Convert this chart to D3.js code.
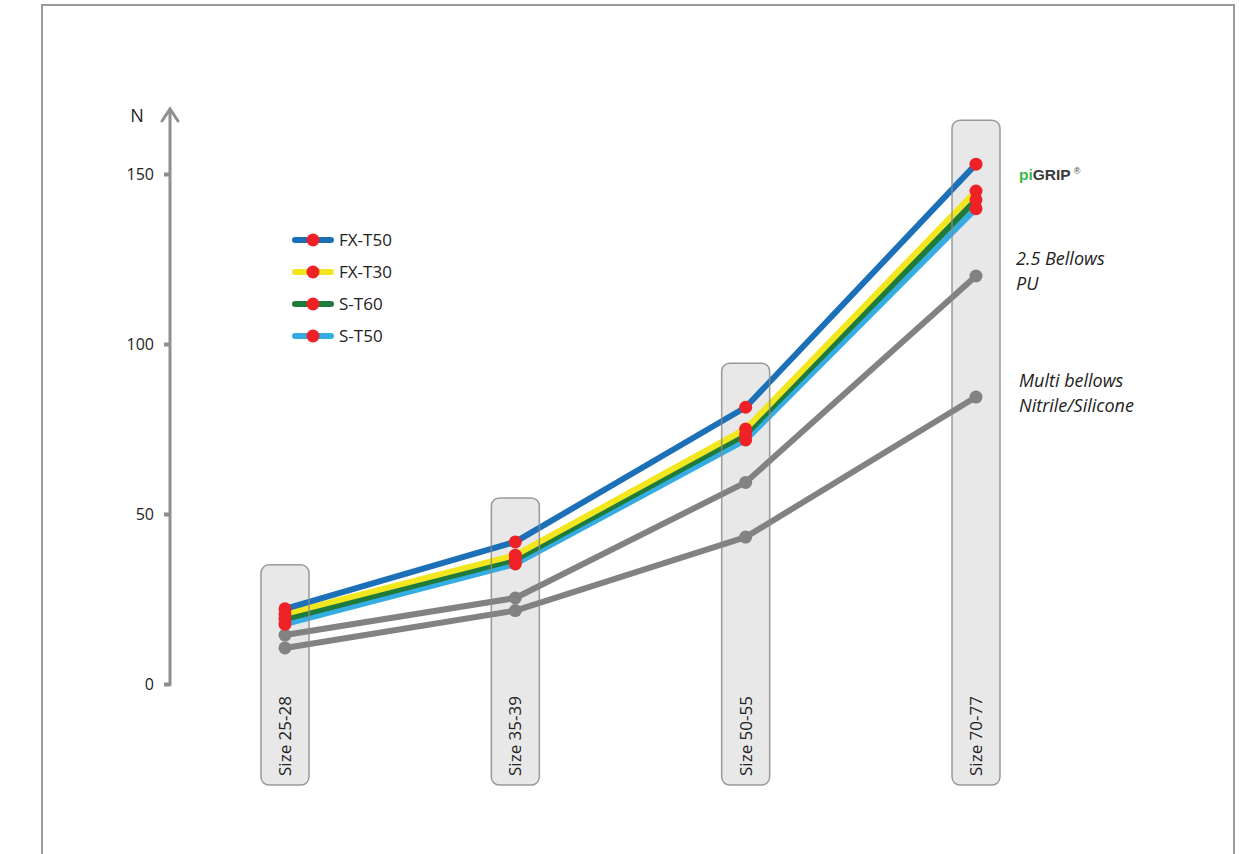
<!DOCTYPE html>
<html>
<head>
<meta charset="utf-8">
<script src="https://cdn.jsdelivr.net/npm/d3@7"></script>
<style>
  html, body { margin: 0; padding: 0; background: #fff; }
  svg { display: block; }
</style>
</head>
<body>
<svg id="chart" width="1239" height="854"></svg>
<script>
// ---- data ----
const categories = ["Size 25-28", "Size 35-39", "Size 50-55", "Size 70-77"];
const tickValues = [0, 50, 100, 150];
const seriesNames = ["FX-T50", "FX-T30", "S-T60", "S-T50"];
const fxT50 = [22.1, 41.8, 81.4, 152.9];
const fxT30 = [20.6, 37.9, 75.0, 145.0];
const sT60  = [19.1, 36.6, 73.4, 142.4];
const sT50  = [17.6, 35.3, 71.8, 139.8];
const bellows25PU = [14.4, 25.3, 59.3, 120.0];
const multiBellows = [10.6, 21.6, 43.2, 84.4];
const seriesColors = ["#1b70b8", "#f2e61e", "#1f7b3b", "#35ade2"];

const svg = d3.select("#chart");
const font = "'Open Sans', 'Liberation Sans', sans-serif";

// frame
svg.append("path")
  .attr("d", "M42,860 L42,5 L1234,5 L1234,860")
  .attr("fill", "none").attr("stroke", "#9a9a9a").attr("stroke-width", 2);

// scales
const x = d3.scalePoint().domain(categories).range([285, 976]);
const y = d3.scaleLinear().domain([0, 150]).range([684, 174]);

// axis
const axisX = 170;
const axisG = svg.append("g").attr("transform", `translate(${axisX},0)`)
  .call(d3.axisLeft(y).tickValues(tickValues).tickSize(6).tickPadding(10));
axisG.select(".domain").remove();
axisG.selectAll(".tick line").attr("stroke", "#8f8f8f").attr("stroke-width", 4);
axisG.selectAll(".tick text").attr("font-family", font).attr("font-size", 16).attr("fill", "#222");
svg.append("line").attr("x1", axisX).attr("x2", axisX).attr("y1", 110).attr("y2", 686)
  .attr("stroke", "#8f8f8f").attr("stroke-width", 3);
svg.append("path").attr("d", `M${axisX-8},121 L${axisX},109 L${axisX+8},121`)
  .attr("fill", "none").attr("stroke", "#8f8f8f").attr("stroke-width", 3).attr("stroke-linecap", "round");
svg.append("text").attr("x", 137).attr("y", 122).attr("text-anchor", "middle")
  .attr("font-family", font).attr("font-size", 18).attr("fill", "#222").text("N");

const line = d3.line().x((d, i) => x(categories[i])).y(d => y(d));
const colored = [fxT50, fxT30, sT60, sT50];

// category boxes (fill behind lines)
const boxTop = i => y(d3.max(colored, s => s[i])) - 44;
const boxes = svg.append("g");
categories.forEach((c, i) => {
  boxes.append("rect").attr("x", x(c) - 24).attr("y", boxTop(i)).attr("width", 48).attr("height", 785 - boxTop(i))
    .attr("rx", 8).attr("ry", 8).attr("fill", "#e8e8e8");
});

// gray lines
[bellows25PU, multiBellows].forEach(s => {
  svg.append("path").datum(s).attr("d", line).attr("fill", "none")
    .attr("stroke", "#828282").attr("stroke-width", 6).attr("stroke-linejoin", "round");
});
// colored lines (bottom first)
for (let k = colored.length - 1; k >= 0; k--) {
  svg.append("path").datum(colored[k]).attr("d", line).attr("fill", "none")
    .attr("stroke", seriesColors[k]).attr("stroke-width", 6).attr("stroke-linejoin", "round");
}

// box outlines and labels on top
categories.forEach((c, i) => {
  svg.append("rect").attr("x", x(c) - 24).attr("y", boxTop(i)).attr("width", 48).attr("height", 785 - boxTop(i))
    .attr("rx", 8).attr("ry", 8).attr("fill", "none")
    .attr("stroke", "#8a8a8a").attr("stroke-width", 1.5).attr("stroke-opacity", 0.85);
  svg.append("text")
    .attr("transform", `translate(${x(c) + 6},736) rotate(-90)`)
    .attr("text-anchor", "middle")
    .attr("font-family", font).attr("font-size", 17).attr("fill", "#222").text(c);
});

// dots
[bellows25PU, multiBellows].forEach(s => {
  svg.append("g").selectAll("circle").data(s).join("circle")
    .attr("cx", (d, i) => x(categories[i])).attr("cy", d => y(d)).attr("r", 6.5).attr("fill", "#828282");
});
colored.forEach(s => {
  svg.append("g").selectAll("circle").data(s).join("circle")
    .attr("cx", (d, i) => x(categories[i])).attr("cy", d => y(d)).attr("r", 6.5).attr("fill", "#ee2226");
});

// legend
seriesNames.forEach((n, k) => {
  const ly = 240 + k * 32;
  svg.append("line").attr("x1", 295).attr("x2", 331).attr("y1", ly).attr("y2", ly)
    .attr("stroke", seriesColors[k]).attr("stroke-width", 6).attr("stroke-linecap", "round");
  svg.append("circle").attr("cx", 313).attr("cy", ly).attr("r", 6.5).attr("fill", "#ee2226");
  svg.append("text").attr("x", 339).attr("y", ly + 6)
    .attr("font-family", font).attr("font-size", 17).attr("fill", "#222").text(n);
});

// right labels
const pg = svg.append("text").attr("x", 1019).attr("y", 180)
  .attr("font-family", "'Liberation Sans', Arial, sans-serif").attr("font-size", 15.5).attr("font-weight", "bold");
pg.append("tspan").attr("fill", "#3cb54a").text("pi");
pg.append("tspan").attr("fill", "#3a3a3a").text("GRIP");
pg.append("tspan").attr("fill", "#3a3a3a").attr("font-size", 9).attr("dy", -6).attr("dx", 3).attr("font-weight", "normal").text("®");

const italicLabel = (lines, x0, y0) => {
  lines.forEach((t, i) => {
    svg.append("text").attr("x", x0).attr("y", y0 + i * 25)
      .attr("font-family", font).attr("font-style", "italic").attr("font-size", 18)
      .attr("fill", "#222").text(t);
  });
};
italicLabel(["2.5 Bellows", "PU"], 1016, 265);
italicLabel(["Multi bellows", "Nitrile/Silicone"], 1019, 387);
</script>
</body>
</html>
